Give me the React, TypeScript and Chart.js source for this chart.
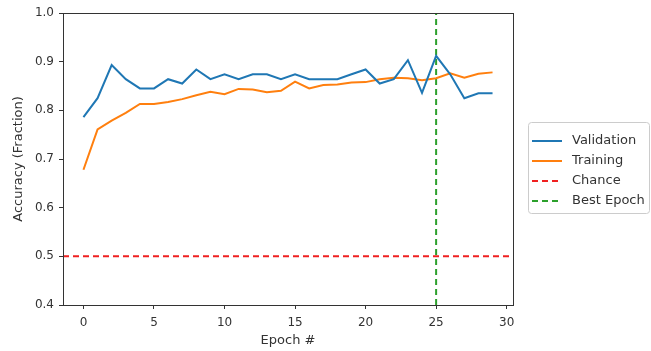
import React, { useEffect, useRef } from "react";
import { Chart, registerables } from "chart.js";

Chart.register(...registerables);

const epochs = Array.from({ length: 30 }, (_, i) => i);
const validation = [
  0.786, 0.825, 0.893, 0.864, 0.845, 0.845, 0.864, 0.855, 0.884, 0.864,
  0.874, 0.864, 0.874, 0.874, 0.864, 0.874, 0.864, 0.864, 0.864, 0.874,
  0.884, 0.855, 0.864, 0.903, 0.836, 0.912, 0.874, 0.825, 0.835, 0.835,
];
const training = [
  0.678, 0.761, 0.779, 0.795, 0.813, 0.813, 0.817, 0.823, 0.831, 0.838,
  0.833, 0.844, 0.843, 0.837, 0.840, 0.859, 0.845, 0.852, 0.853, 0.857,
  0.858, 0.864, 0.867, 0.866, 0.862, 0.866, 0.876, 0.867, 0.875, 0.878,
];
const CHANCE = 0.5;
const BEST_EPOCH = 25;
const xTicks = [0, 5, 10, 15, 20, 25, 30];
const yTicks = [0.4, 0.5, 0.6, 0.7, 0.8, 0.9, 1.0];
const X_MIN = -1.45;
const X_MAX = 30.45;
const Y_MIN = 0.4;
const Y_MAX = 1.0;

const FONT = "DejaVu Sans";
const TEXT = "#333333";

const frameAndLegend = {
  id: "frameAndLegend",
  afterDraw(chart: any) {
    const { ctx, chartArea } = chart;
    ctx.save();
    ctx.strokeStyle = "#333333";
    ctx.lineWidth = 1;
    ctx.strokeRect(
      Math.round(chartArea.left) + 0.5,
      Math.round(chartArea.top) + 0.5,
      Math.round(chartArea.right - chartArea.left),
      Math.round(chartArea.bottom - chartArea.top)
    );
    // legend
    const bx = 528.5, by = 122.5, bw = 121, bh = 91, r = 3;
    ctx.beginPath();
    ctx.moveTo(bx + r, by);
    ctx.lineTo(bx + bw - r, by);
    ctx.quadraticCurveTo(bx + bw, by, bx + bw, by + r);
    ctx.lineTo(bx + bw, by + bh - r);
    ctx.quadraticCurveTo(bx + bw, by + bh, bx + bw - r, by + bh);
    ctx.lineTo(bx + r, by + bh);
    ctx.quadraticCurveTo(bx, by + bh, bx, by + bh - r);
    ctx.lineTo(bx, by + r);
    ctx.quadraticCurveTo(bx, by, bx + r, by);
    ctx.closePath();
    ctx.fillStyle = "#ffffff";
    ctx.fill();
    ctx.strokeStyle = "#cccccc";
    ctx.stroke();
    chart.data.datasets.forEach((ds: any, i: number) => {
      const y = 141 + i * 20;
      ctx.beginPath();
      ctx.setLineDash(ds.borderDash || []);
      ctx.strokeStyle = ds.borderColor;
      ctx.lineWidth = 2;
      ctx.moveTo(532, y);
      ctx.lineTo(562, y);
      ctx.stroke();
      ctx.setLineDash([]);
      ctx.fillStyle = TEXT;
      ctx.font = `13px "${FONT}"`;
      ctx.textBaseline = "middle";
      ctx.textAlign = "left";
      ctx.fillText(ds.label, 572, y);
    });
    ctx.restore();
  },
};

export default function App() {
  const ref = useRef<HTMLCanvasElement>(null);
  useEffect(() => {
    if (!ref.current) return;
    const chart = new Chart(ref.current, {
      type: "line",
      data: {
        datasets: [
          {
            label: "Validation",
            data: epochs.map((e, i) => ({ x: e, y: validation[i] })),
            borderColor: "#1f77b4",
            borderWidth: 2,
            pointRadius: 0,
            tension: 0,
          },
          {
            label: "Training",
            data: epochs.map((e, i) => ({ x: e, y: training[i] })),
            borderColor: "#ff7f0e",
            borderWidth: 2,
            pointRadius: 0,
            tension: 0,
          },
          {
            label: "Chance",
            data: [
              { x: X_MIN, y: CHANCE },
              { x: X_MAX, y: CHANCE },
            ],
            borderColor: "#f02020",
            borderDash: [6, 4],
            borderWidth: 2,
            pointRadius: 0,
          },
          {
            label: "Best Epoch",
            data: [
              { x: BEST_EPOCH, y: Y_MIN },
              { x: BEST_EPOCH, y: Y_MAX },
            ],
            borderColor: "#2ca02c",
            borderDash: [6, 4],
            borderWidth: 2,
            pointRadius: 0,
          },
        ],
      },
      options: {
        responsive: false,
        animation: false,
        layout: { padding: { left: 0, top: 13, right: 138, bottom: 0 } },
        plugins: { legend: { display: false }, tooltip: { enabled: false } },
        scales: {
          x: {
            type: "linear",
            min: X_MIN,
            max: X_MAX,
            afterBuildTicks: (s: any) => {
              s.ticks = xTicks.map((v) => ({ value: v }));
            },
            afterFit: (s: any) => {
              s.height = 46;
            },
            grid: { drawOnChartArea: false, drawTicks: true, tickLength: 4, color: "#333333" },
            border: { display: true, color: "#333333" },
            ticks: {
              color: TEXT,
              font: { family: FONT, size: 12 },
              padding: 7,
              maxRotation: 0,
              callback: (v: any) => String(v),
            },
            title: {
              display: true,
              text: "Epoch #",
              color: TEXT,
              font: { family: FONT, size: 13 },
              padding: { top: 0, bottom: 3 },
            },
          },
          y: {
            type: "linear",
            min: Y_MIN,
            max: Y_MAX,
            afterBuildTicks: (s: any) => {
              s.ticks = yTicks.map((v) => ({ value: v }));
            },
            afterFit: (s: any) => {
              s.width = 63;
            },
            grid: { drawOnChartArea: false, drawTicks: true, tickLength: 4, color: "#333333" },
            border: { display: true, color: "#333333" },
            ticks: {
              color: TEXT,
              font: { family: FONT, size: 12 },
              padding: 5,
              callback: (v: any) => Number(v).toFixed(1),
            },
            title: {
              display: true,
              text: "Accuracy (Fraction)",
              color: TEXT,
              font: { family: FONT, size: 13 },
              padding: { top: 11, bottom: 0 },
            },
          },
        },
      },
      plugins: [frameAndLegend],
    } as any);
    return () => chart.destroy();
  }, []);
  return (
    <div style={{ position: "absolute", left: 0, top: 0, width: 651, height: 351, background: "#fff" }}>
      <canvas ref={ref} width={651} height={351} style={{ display: "block" }} />
    </div>
  );
}
